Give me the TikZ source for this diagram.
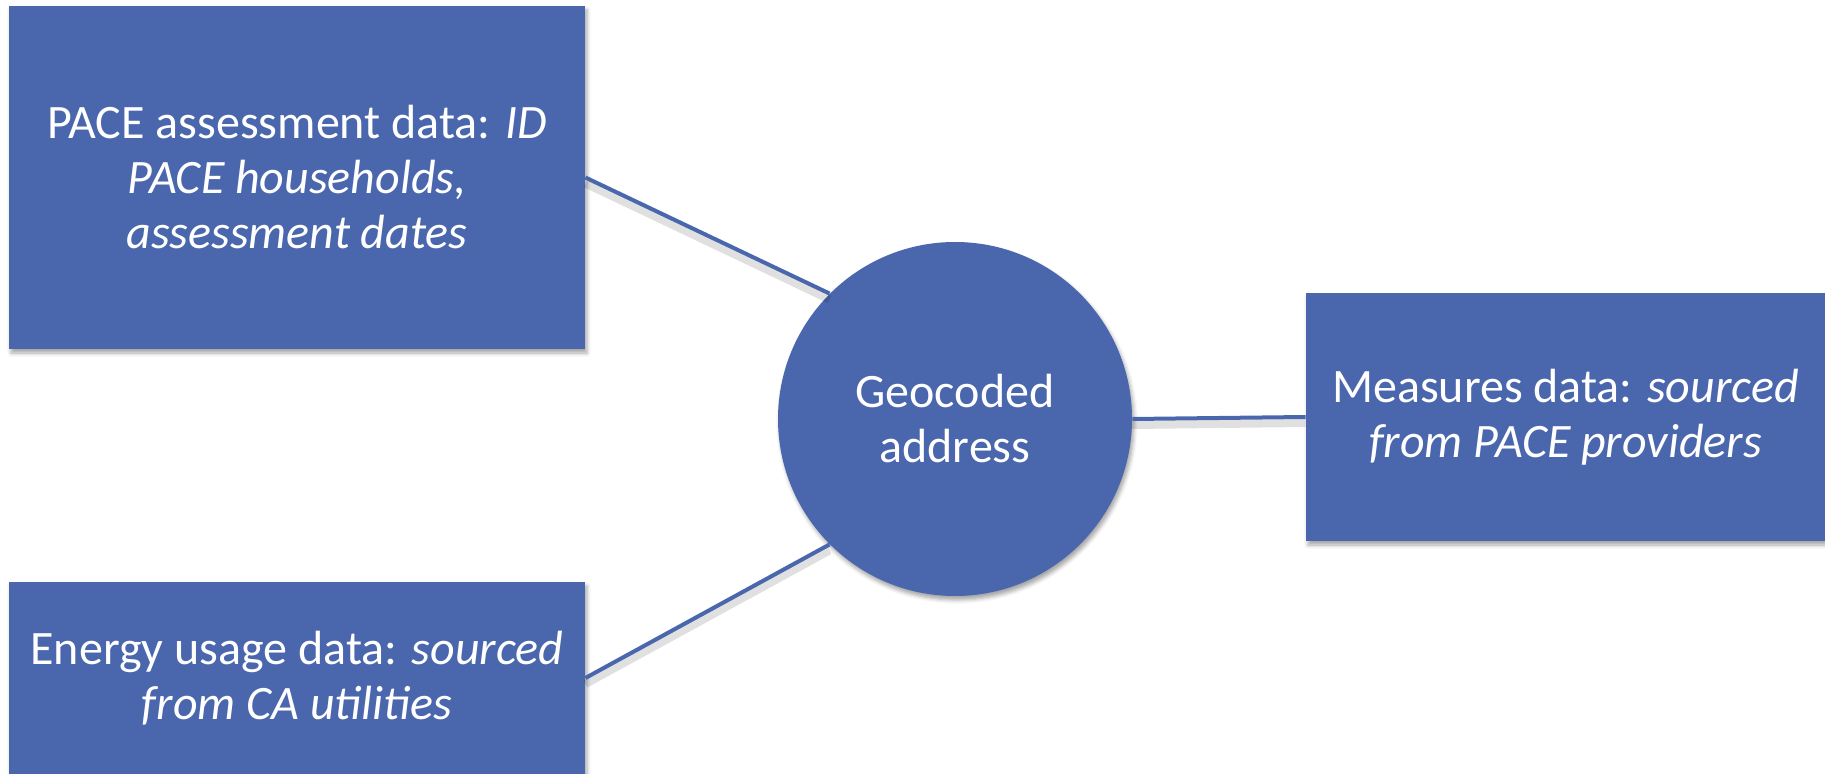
\documentclass[tikz,border=0pt]{standalone}
\usepackage{fontspec}
\setmainfont{Carlito}
\usetikzlibrary{positioning,shadows.blur}
\definecolor{paceblue}{RGB}{74,103,173}

\begin{document}
\begin{tikzpicture}[x=0.5pt,y=-0.5pt,
  box/.style={fill=paceblue,text=white,align=center,inner sep=0pt,
    font=\fontsize{24}{27.5}\selectfont,
    blur shadow={shadow xshift=1pt,shadow yshift=-2pt,shadow blur steps=4,shadow opacity=35}},
  hub/.style={box,circle,minimum size=177pt},
  link/.style={draw=paceblue,line width=2pt},
  linkshade/.style={draw=black,opacity=.12,line width=4pt,transform canvas={yshift=-3pt}}]
  \useasboundingbox (0,0) rectangle (1825,774);
  % the three data sources and the shared key
  \node[box,minimum width=288pt,minimum height=171.5pt] (pace) at (297,177.5)
    {PACE assessment data: \textit{ID}\\\textit{PACE households,}\\\textit{assessment dates}};
  \node[box,minimum width=288pt,minimum height=96pt] (energy) at (297,678)
    {Energy usage data: \textit{sourced}\\\textit{from CA utilities}};
  \node[box,minimum width=259.5pt,minimum height=124pt] (measures) at (1565.5,417)
    {Measures data: \textit{sourced}\\\textit{from PACE providers}};
  \node[hub] (geo) at (955,419) {Geocoded\\address};
  % soft shade first, then the links
  \draw[linkshade] (pace.east) -- (geo.north west);
  \draw[linkshade] (energy.east) -- (geo.south west);
  \draw[linkshade] (geo.east) -- (measures.west);
  \draw[link] (pace.east) -- (geo.north west);
  \draw[link] (energy.east) -- (geo.south west);
  \draw[link] (geo.east) -- (measures.west);
\end{tikzpicture}
\end{document}
